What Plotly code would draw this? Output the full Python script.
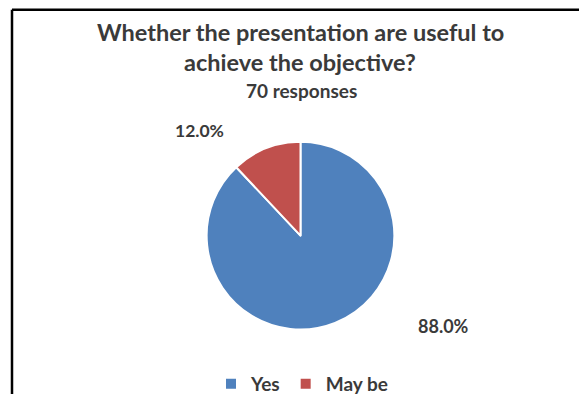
import plotly.graph_objects as go

categories = ["Yes", "May be"]
values = [88.0, 12.0]
colors = ["#4F81BD", "#C0504D"]
title_lines = ["Whether the presentation are useful to", "achieve the objective?"]
subtitle = "70 responses"

W, H = 579, 403


def px(x):
    return x / W


def py(y):
    return 1 - y / H


total = sum(values)
pct = [f"{v / total * 100:.1f}%" for v in values]

fig = go.Figure()
fig.add_trace(go.Pie(
    labels=categories,
    values=values,
    marker=dict(colors=colors, line=dict(color="white", width=2)),
    sort=False,
    direction="clockwise",
    rotation=0,
    textinfo="none",
    hoverinfo="label+percent",
    domain=dict(x=[px(205), px(396)], y=[py(337), py(145)]),
))

font_fam = "Lato, 'Open Sans', sans-serif"
dark = "#3a3a3a"
annotations = [
    dict(text="<b>" + title_lines[0] + "</b>", x=px(300), y=py(33)),
    dict(text="<b>" + title_lines[1] + "</b>", x=px(300), y=py(63)),
    dict(text="<b>" + subtitle + "</b>", x=px(301), y=py(93)),
    dict(text="<b>" + pct[1] + "</b>", x=px(199), y=py(133)),
    dict(text="<b>" + pct[0] + "</b>", x=px(444), y=py(333)),
]
sizes = [23.5, 23.5, 19, 17.5, 18]
for a, s in zip(annotations, sizes):
    a.update(xref="paper", yref="paper", showarrow=False, xanchor="center", yanchor="middle",
             font=dict(family=font_fam, size=s, color=dark))

fig.update_layout(
    width=W, height=H,
    margin=dict(l=0, r=0, t=0, b=0),
    paper_bgcolor="white",
    plot_bgcolor="white",
    showlegend=True,
    legend=dict(orientation="h", x=px(302), xanchor="center", y=py(393), yanchor="middle",
                font=dict(family=font_fam, size=19, color=dark, weight="bold"), itemwidth=30,
                traceorder="normal"),
    annotations=annotations,
    shapes=[
        dict(type="line", xref="paper", yref="paper", x0=px(12), x1=px(12), y0=0, y1=py(10),
             line=dict(color="black", width=2.5)),
        dict(type="line", xref="paper", yref="paper", x0=px(12), x1=1, y0=py(10), y1=py(10),
             line=dict(color="black", width=2.5)),
    ],
)

fig.write_html(
    "out.html",
    config={"displayModeBar": False},
    post_script="document.body.style.margin='0';document.body.style.overflow='hidden';",
)
